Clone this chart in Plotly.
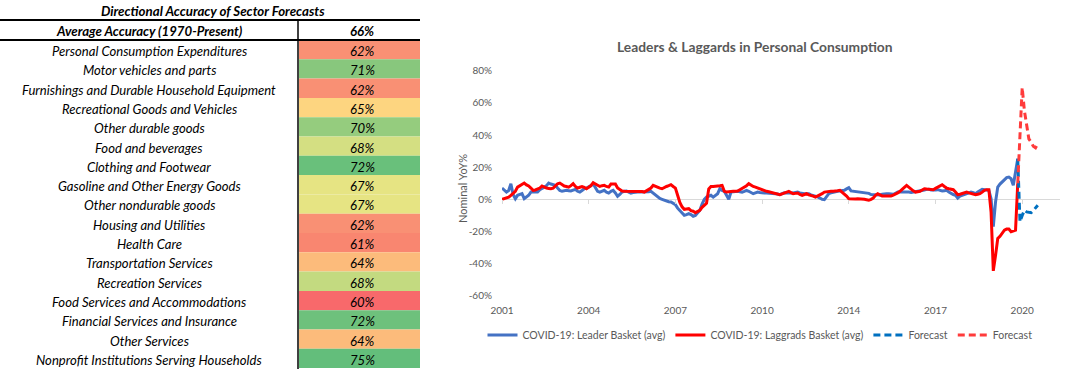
import plotly.graph_objects as go

W, H = 1073, 369

# ---------------- table data ----------------
table_title = "Directional Accuracy of Sector Forecasts"
header_label = "Average Accuracy (1970-Present)"
header_value = "66%"
sectors = [
    "Personal Consumption Expenditures",
    "Motor vehicles and parts",
    "Furnishings and Durable Household Equipment",
    "Recreational Goods and Vehicles",
    "Other durable goods",
    "Food and beverages",
    "Clothing and Footwear",
    "Gasoline and Other Energy Goods",
    "Other nondurable goods",
    "Housing and Utilities",
    "Health Care",
    "Transportation Services",
    "Recreation Services",
    "Food Services and Accommodations",
    "Financial Services and Insurance",
    "Other Services",
    "Nonprofit Institutions Serving Households",
]
accuracy = [62, 71, 62, 65, 70, 68, 72, 67, 67, 62, 61, 64, 68, 60, 72, 64, 75]
cell_colors = [
    "#F99074", "#88C77D", "#F99074", "#FDD580", "#95CC7E", "#D4DF82",
    "#69C07B", "#E6E483", "#E6E483", "#F99074", "#F98670", "#FCBB7B",
    "#C3DA80", "#F8696B", "#6EC17C", "#FCBB7B", "#63BE7B",
]

# ---------------- chart data ----------------
chart_title = "Leaders & Laggards in Personal Consumption"
leaders = [
    7.0, 6.0, 4.5, 5.5, 9.7, 3.0, 0.4, 2.5, 3.0, 3.5,
    0.4, 1.5, 2.5, 4.5, 4.5, 4.5, 4.5, 6.0, 6.6, 7.6,
    8.5, 10.1, 9.5, 9.1, 8.7, 7.0, 5.5, 5.0, 5.5, 5.6,
    5.4, 5.2, 5.7, 6.2, 5.0, 4.5, 5.5, 6.6, 7.0, 7.6,
    8.5, 9.7, 7.0, 5.0, 4.5, 5.0, 5.6, 4.5, 3.9, 5.0,
    5.6, 4.0, 1.9, 3.0, 4.5, 5.0, 5.2, 4.5, 3.9, 4.2,
    4.5, 4.5, 4.5, 4.5, 4.5, 4.5, 4.7, 5.0, 3.9, 2.5,
    1.4, 0.5, 0.0, -0.6, -1.2, -1.5, -1.7, -2.5, -3.3, -5.5,
    -7.0, -8.9, -9.9, -9.5, -8.9, -9.5, -10.5, -10.0, -8.5, -6.8,
    -3.0, 0.0, 1.4, 2.0, 2.5, 1.4, 2.5, 3.5, 6.6, 5.5,
    5.0, 2.5, 0.0, 4.5, 4.8, 5.0, 5.0, 4.7, 4.5, 5.0,
    5.6, 5.0, 4.0, 3.5, 4.0, 4.5, 4.2, 3.9, 3.9, 3.9,
    3.9, 3.9, 3.7, 3.5, 3.3, 2.9, 3.5, 4.1, 4.0, 3.9,
    3.9, 3.9, 4.2, 4.5, 4.0, 3.5, 3.5, 3.5, 3.5, 2.8,
    2.5, 2.0, 1.5, 0.8, 0.0, -0.2, 2.0, 3.5, 4.0, 4.5,
    4.7, 5.0, 5.2, 5.4, 5.6, 6.5, 7.2, 5.2, 5.0, 5.0,
    5.0, 4.7, 4.5, 4.3, 4.1, 3.7, 3.0, 2.9, 2.5, 2.5,
    2.7, 3.1, 3.5, 3.5, 3.5, 3.3, 3.1, 3.8, 4.5, 4.5,
    4.5, 4.6, 4.8, 4.5, 4.3, 4.5, 5.0, 5.2, 5.4, 5.6,
    5.8, 6.2, 6.3, 5.8, 5.6, 5.8, 6.0, 5.6, 5.2, 5.4,
    5.6, 4.5, 3.5, 3.0, 2.5, 0.8, 2.0, 2.5, 3.0, 3.5,
    3.8, 4.5, 4.2, 3.5, 4.5, 5.6, 6.2, 6.0, 5.6, 5.6,
    0.4, -17.0, -1.7, 7.6, 9.5, 10.7, 12.4, 13.5, 13.8, 12.8,
    8.7, 16.9, 25.2,
]
laggards = [
    0.0, 0.5, 1.0, 1.4, 2.5, 3.5, 5.0, 7.6, 8.5, 9.0,
    10.1, 9.0, 8.3, 7.0, 5.6, 5.8, 6.2, 7.0, 8.3, 7.5,
    7.0, 6.8, 6.6, 7.0, 8.5, 9.7, 10.1, 9.0, 8.3, 8.0,
    7.6, 8.5, 9.7, 8.0, 7.0, 7.5, 8.0, 7.5, 6.6, 7.5,
    8.5, 10.3, 9.5, 8.5, 8.0, 8.5, 8.7, 8.0, 7.6, 9.5,
    9.7, 9.5, 7.0, 6.0, 5.2, 5.0, 5.0, 5.0, 5.0, 5.2,
    5.2, 5.0, 5.0, 4.8, 4.5, 5.5, 6.5, 7.0, 8.7, 8.0,
    7.6, 7.0, 6.6, 7.5, 8.0, 8.5, 9.1, 8.0, 7.0, 2.5,
    -2.0, -4.7, -6.2, -6.0, -5.8, -7.0, -7.4, -8.3, -7.5, -6.8,
    -5.0, -4.0, -2.5, 6.5, 8.0, 8.0, 8.3, 8.3, 8.5, 8.7,
    5.0, 4.5, 4.8, 5.0, 5.0, 5.1, 5.2, 6.0, 6.8, 7.5,
    8.5, 9.7, 8.8, 8.0, 7.6, 7.0, 6.6, 6.0, 5.5, 5.0,
    4.7, 4.4, 4.1, 3.6, 3.2, 2.9, 3.4, 3.9, 4.5, 5.0,
    4.2, 3.5, 3.7, 3.9, 3.0, 2.5, 3.0, 3.5, 2.8, 2.5,
    2.0, 1.4, 2.0, 2.5, 3.5, 4.5, 4.8, 5.0, 5.0, 5.0,
    5.0, 5.3, 5.6, 4.5, 3.5, 2.0, 0.4, 0.2, 0.0, 0.2,
    0.4, 0.4, 0.2, 0.0, -0.3, -0.6, 0.0, 0.8, 2.5, 3.5,
    2.8, 2.1, 2.1, 2.1, 2.1, 2.1, 2.6, 3.2, 4.0, 5.0,
    6.0, 7.5, 8.7, 7.5, 6.2, 5.3, 4.5, 4.7, 5.0, 5.8,
    6.6, 6.4, 6.2, 6.0, 6.0, 6.8, 7.6, 8.0, 9.1, 8.0,
    7.0, 6.6, 6.3, 6.0, 4.5, 2.9, 3.2, 3.5, 4.0, 4.5,
    4.0, 3.5, 3.2, 2.9, 3.2, 3.5, 4.5, 5.6, 6.0, 6.0,
    -8.0, -44.5, -35.0, -24.4, -23.0, -21.0, -19.2, -18.5, -18.5, -20.2,
    -19.8, -19.2, 10.0,
]
leaders_forecast = [25.2, -14.0, -10.0, -6.8, -7.8, -8.0, -8.3, -7.0, -5.5, -3.7]
laggards_forecast = [10.0, 40.0, 69.5, 55.0, 45.0, 37.6, 35.5, 33.0, 32.0, 34.5]

tick_labels = ["2001", "2004", "2007", "2010", "2014", "2017", "2020"]
tick_every = 39
y_ticks = [-60, -40, -20, 0, 20, 40, 60, 80]
y_tick_labels = ["%d%%" % v for v in y_ticks]

periods = list(range(len(leaders)))
fc_start = len(leaders) - 1
fc_periods = list(range(fc_start, fc_start + len(leaders_forecast)))
tick_positions = [k * tick_every for k in range(len(tick_labels))]

GRAY = "#595959"
FONT = "Lato, 'Open Sans', sans-serif"


def px_x(x):
    return x / W


def px_y(y):
    return 1 - y / H


# plot area (pixels)
PL, PR, PT, PB = 502, 1060, 70.7, 295.8
ymin, ymax = -60, 80
ydom = [px_y(PB), px_y(PT)]
zero_pos = ydom[0] + (0 - ymin) / (ymax - ymin) * (ydom[1] - ydom[0])

fig = go.Figure()
fig.add_trace(go.Scatter(x=periods, y=leaders, mode="lines", name="COVID-19: Leader Basket (avg)",
                         line=dict(color="#4472C4", width=3)))
fig.add_trace(go.Scatter(x=periods, y=laggards, mode="lines", name="COVID-19: Laggrads Basket (avg)",
                         line=dict(color="#FF0000", width=3)))
fig.add_trace(go.Scatter(x=fc_periods, y=leaders_forecast, mode="lines", name="Forecast",
                         line=dict(color="#0070C0", width=3, dash="7px,4px")))
fig.add_trace(go.Scatter(x=fc_periods, y=laggards_forecast, mode="lines", name="Forecast",
                         line=dict(color="#FF3B3B", width=3, dash="7px,4px")))
# carrier trace for the tick marks sitting on the zero line
fig.add_trace(go.Scatter(x=tick_positions, y=[0] * len(tick_positions), xaxis="x2", yaxis="y",
                         mode="markers", marker=dict(opacity=0), showlegend=False, hoverinfo="skip"))

xrange = [0, (PR - PL) / (86.7 / tick_every)]

shapes = []
annotations = []


def label(x, y, text, size, color="#000000", **kw):
    annotations.append(dict(x=px_x(x), y=px_y(y), xref="paper", yref="paper", showarrow=False,
                            xanchor="center", yanchor="middle", text=text,
                            font=dict(family=FONT, size=size, color=color), **kw))


# ---- table ----
TBL_R = 420
COL_SPLIT = 298
ROW_TOP = 40
ROW_H = 19.3
label(213, 11, "<b><i>" + table_title + "</i></b>", 13.3)
label(149, 31, "<b><i>" + header_label + "</i></b>", 13.2)
label(362, 31, "<b><i>" + header_value + "</i></b>", 13.2)
for i, (name, val, col) in enumerate(zip(sectors, accuracy, cell_colors)):
    top = ROW_TOP + i * ROW_H
    shapes.append(dict(type="rect", xref="paper", yref="paper",
                       x0=px_x(COL_SPLIT + 1), x1=px_x(TBL_R), y0=px_y(top + ROW_H), y1=px_y(top),
                       fillcolor=col, line=dict(width=0), layer="below"))
    label(149, top + 11, "<i>" + name + "</i>", 13.1)
    label(362, top + 11, "<i>%d%%</i>" % val, 13.1)
shapes.append(dict(type="line", xref="paper", yref="paper", x0=0, x1=px_x(TBL_R), y0=px_y(20), y1=px_y(20),
                   line=dict(color="#000000", width=2)))
shapes.append(dict(type="line", xref="paper", yref="paper", x0=0, x1=px_x(TBL_R), y0=px_y(40), y1=px_y(40),
                   line=dict(color="#000000", width=2)))
shapes.append(dict(type="line", xref="paper", yref="paper", x0=px_x(COL_SPLIT), x1=px_x(COL_SPLIT),
                   y0=px_y(20), y1=0, line=dict(color="#000000", width=1.5)))

# ---- chart title and axis title ----
label(755, 46, "<b>" + chart_title + "</b>", 13.8, GRAY)
label(462, 189, "Nominal YoY%", 11, GRAY, textangle=-90)

fig.update_layout(
    width=W, height=H,
    margin=dict(l=0, r=0, t=0, b=0, pad=0, autoexpand=False),
    paper_bgcolor="white", plot_bgcolor="white",
    shapes=shapes, annotations=annotations,
    xaxis=dict(domain=[px_x(PL), px_x(PR)], range=xrange, showgrid=False, zeroline=False,
               showline=False, ticks="", tickvals=tick_positions, ticktext=tick_labels, automargin=False,
               tickfont=dict(family=FONT, size=10, color=GRAY), ticklabelstandoff=7),
    xaxis2=dict(overlaying="x", anchor="free", position=zero_pos, range=xrange, showgrid=False,
                zeroline=False, showline=False, ticks="outside", ticklen=4, tickcolor="#D9D9D9",
                tickwidth=1, tickvals=tick_positions, showticklabels=False, automargin=False),
    yaxis=dict(domain=ydom, range=[ymin, ymax], showgrid=False, zeroline=True, zerolinecolor="#D9D9D9",
               zerolinewidth=1, showline=False, tickvals=y_ticks, ticktext=y_tick_labels, automargin=False,
               tickfont=dict(family=FONT, size=10, color=GRAY), ticklabelstandoff=9),
    legend=dict(orientation="h", x=px_x(760), xanchor="center", y=px_y(335), yanchor="middle",
                font=dict(family=FONT, size=10.5, color=GRAY), bgcolor="rgba(0,0,0,0)",
                itemwidth=30, tracegroupgap=0),
    showlegend=True,
)

fig.write_html("out.html", config={"displayModeBar": False},
               post_script="document.body.style.margin='0px';document.body.style.overflow='hidden';")
